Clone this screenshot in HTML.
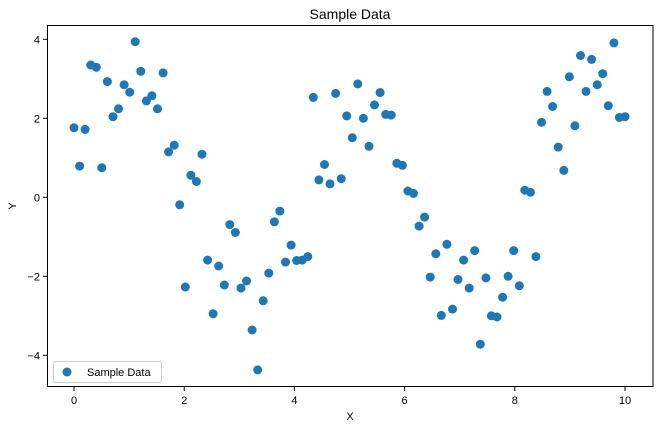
<!DOCTYPE html>
<html><head><meta charset="utf-8"><style>
body{margin:0;background:#fff;}
svg{display:block;font-family:"Liberation Sans","DejaVu Sans",sans-serif;}
</style></head><body>
<svg id="s" width="660" height="428" xmlns="http://www.w3.org/2000/svg">
<rect width="660" height="428" fill="#fff"/>
<text x="350" y="19" font-size="14" text-anchor="middle">Sample Data</text>
<g id="pts" fill="#1f77b4"></g>
<rect x="47.5" y="25.5" width="605.5" height="361" fill="none" stroke="#000" stroke-width="1"/>
<g stroke="#000" stroke-width="1">
<line x1="74" y1="387" x2="74" y2="391"/><line x1="184.2" y1="387" x2="184.2" y2="391"/><line x1="294.4" y1="387" x2="294.4" y2="391"/><line x1="404.6" y1="387" x2="404.6" y2="391"/><line x1="514.8" y1="387" x2="514.8" y2="391"/><line x1="625" y1="387" x2="625" y2="391"/>
<line x1="43" y1="39.3" x2="47" y2="39.3"/><line x1="43" y1="118.3" x2="47" y2="118.3"/><line x1="43" y1="197.3" x2="47" y2="197.3"/><line x1="43" y1="276.3" x2="47" y2="276.3"/><line x1="43" y1="355.3" x2="47" y2="355.3"/>
</g>
<g font-size="11" text-anchor="middle">
<text x="74" y="404">0</text><text x="184.2" y="404">2</text><text x="294.4" y="404">4</text><text x="404.6" y="404">6</text><text x="514.8" y="404">8</text><text x="625" y="404">10</text>
</g>
<g font-size="11" text-anchor="end">
<text x="40" y="43.3">4</text><text x="40" y="122.3">2</text><text x="40" y="201.3">0</text><text x="40" y="280.3">−2</text><text x="40" y="359.3">−4</text>
</g>
<text x="350" y="420" font-size="11" text-anchor="middle">X</text>
<text x="0" y="0" font-size="11" text-anchor="middle" transform="translate(16,206) rotate(-90)">Y</text>
<rect x="53.5" y="361.5" width="108" height="21" rx="2" fill="#fff" fill-opacity="0.8" stroke="#ccc"/>
<circle cx="67" cy="372" r="4.5" fill="#1f77b4"/>
<text x="87" y="376" font-size="11">Sample Data</text>
</svg>
<script>
var d=[1.76,0.79,1.72,3.35,3.29,0.75,2.93,2.04,2.24,2.85,2.66,3.94,3.19,2.44,2.57,2.24,3.15,1.15,1.32,-0.19,-2.27,0.56,0.40,1.09,-1.59,-2.95,-1.74,-2.22,-0.69,-0.89,-2.30,-2.12,-3.36,-4.37,-2.62,-1.92,-0.62,-0.35,-1.64,-1.21,-1.60,-1.59,-1.50,2.53,0.44,0.83,0.34,2.63,0.47,2.06,1.51,2.87,2.00,1.29,2.34,2.65,2.10,2.08,0.86,0.81,0.16,0.10,-0.73,-0.50,-2.02,-1.43,-2.99,-1.19,-2.83,-2.08,-1.59,-2.30,-1.35,-3.72,-2.04,-3.00,-3.03,-2.53,-2.00,-1.35,-2.24,0.18,0.13,-1.50,1.90,2.68,2.30,1.27,0.68,3.05,1.81,3.59,2.68,3.49,2.85,3.13,2.32,3.91,2.02,2.04];
var g=document.getElementById('pts'),h='';
for(var i=0;i<d.length;i++){h+='<circle cx="'+(74+i*10/99*55.1).toFixed(1)+'" cy="'+(197.3-d[i]*39.5).toFixed(1)+'" r="4.5"/>';}
g.innerHTML=h;
</script>
</body></html>
